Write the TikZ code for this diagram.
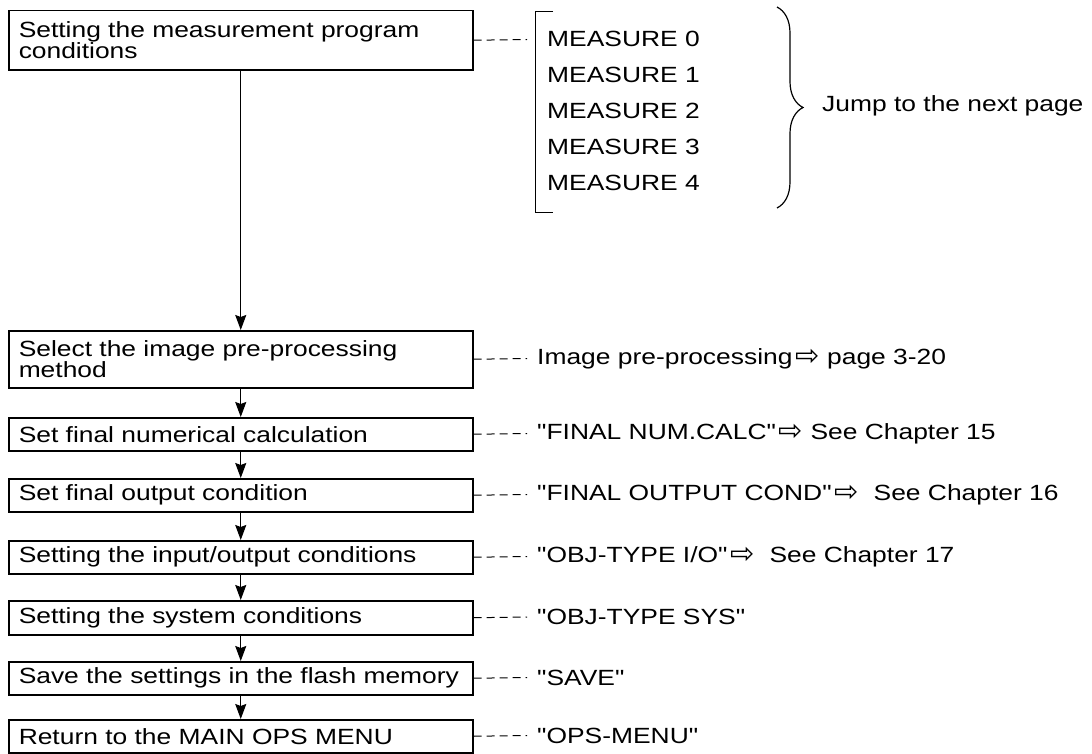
\documentclass[tikz,border=0pt]{standalone}
\usepackage{fontspec}
\setmainfont{Liberation Sans}[FakeStretch=1.2, Ligatures=TeXOff]
\newfontfamily\arrowfont{DejaVu Sans}
\usetikzlibrary{arrows.meta,decorations.pathreplacing}
\newcommand{\wharr}{{\arrowfont\fontsize{29bp}{29bp}\selectfont\raisebox{-1bp}{⇨}}}
\begin{document}
\begin{tikzpicture}[x=1bp,y=-1bp,
  txt/.style={font=\fontsize{22bp}{20bp}\selectfont},
  stepbox/.style={txt, draw, line width=1.5bp, anchor=north west,
    text width=444bp, inner xsep=10bp, inner ysep=0pt, align=left},
  note/.style={txt, anchor=west, inner xsep=10bp, inner ysep=0pt},
  flow/.style={line width=1.4bp, -{Stealth[length=15bp,width=11bp,inset=2bp]}},
  guide/.style={line width=1bp, dash pattern=on 8bp off 5bp}]
\useasboundingbox (0,0) rectangle (1092,754);

% main boxes
\node[stepbox, minimum height=59bp] (b1) at (8,10) {Setting the measurement program\\conditions};
\node[stepbox, minimum height=57bp] (b2) at (8,330) {Select the image pre-processing\\method};
\node[stepbox, minimum height=33bp] (b3) at (8,417) {Set final numerical calculation};
\node[stepbox, minimum height=33bp] (b4) at (8,478) {Set final output condition};
\node[stepbox, minimum height=33bp] (b5) at (8,540) {Setting the input/output conditions};
\node[stepbox, minimum height=34bp] (b6) at (8,600) {Setting the system conditions};
\node[stepbox, minimum height=33bp] (b7) at (8,661) {Save the settings in the flash memory};
\node[stepbox, minimum height=33bp] (b8) at (8,719) {Return to the MAIN OPS MENU};

% flow arrows
\draw[flow] (b1) -- (b2);
\draw[flow] (b2) -- (b3);
\draw[flow] (b3) -- (b4);
\draw[flow] (b4) -- (b5);
\draw[flow] (b5) -- (b6);
\draw[flow] (b6) -- (b7);
\draw[flow] (b7) -- (b8);

% measure list
\coordinate (bk) at (527,39.5);
\draw[guide] (b1.east) -- (bk);
\draw[line width=1bp] (553,12) -- (535,12) -- (535,212) -- (553,212);
\node[note] (m0) at (537,39)  {MEASURE 0};
\node[note] (m1) at (537,75)  {MEASURE 1};
\node[note] (m2) at (537,111) {MEASURE 2};
\node[note] (m3) at (537,147) {MEASURE 3};
\node[note] (m4) at (537,183) {MEASURE 4};
\draw[line width=1.2bp, decorate, decoration={brace, amplitude=26bp}] (777,7) -- (777,208);
\node[note] (jump) at (812,106) {Jump to the next page};

% references
\node[note] (r2) at (527,358.5) {Image pre-processing\kern3bp\wharr\ page 3-20};
\node[note] (r3) at (527,433.5) {"FINAL NUM.CALC"\kern3bp\wharr\ See Chapter 15};
\node[note] (r4) at (527,494.5) {"FINAL OUTPUT COND"\kern3bp\wharr\ \ See Chapter 16};
\node[note] (r5) at (527,556.5) {"OBJ-TYPE I/O"\kern3bp\wharr\ \ See Chapter 17};
\node[note] (r6) at (527,617)   {"OBJ-TYPE SYS"};
\node[note] (r7) at (527,677.5) {"SAVE"};
\node[note] (r8) at (527,735.5) {"OPS-MENU"};
\foreach \i in {2,...,8} \draw[guide] (b\i.east) -- (r\i.west);
\end{tikzpicture}
\end{document}
